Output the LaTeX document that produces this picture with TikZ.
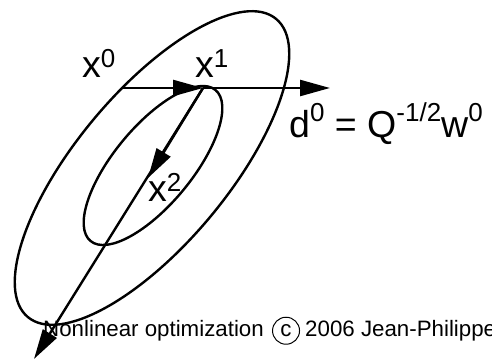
\documentclass[tikz,border=0pt]{standalone}
\usepackage{fontspec}
\setmainfont{Liberation Sans}
\usetikzlibrary{arrows.meta,positioning}

\newcommand{\sups}[2][0.28em]{\raisebox{#1}{\fontsize{26}{26}\selectfont #2}}

\begin{document}
\begin{tikzpicture}[x=1pt,y=1pt,
  lvl/.style={line width=2.4pt},
  arr/.style={-{Triangle[length=30pt,width=16pt]}, line width=2.4pt},
  lbl/.style={font=\fontsize{37.5}{40}\selectfont, inner sep=0pt, anchor=base west},
  foot/.style={font=\fontsize{22.3}{24}\selectfont, inner sep=0pt}]
\useasboundingbox (0,0) rectangle (492,361);

% level sets
\draw[lvl, rotate around={50.2:(152,193)}] (152,193) ellipse (194 and 76);
\draw[lvl, rotate around={50.4:(153,195.5)}] (153,195.5) ellipse (98 and 39);

% iterates
\coordinate (x0) at (122,273);
\coordinate (x1) at (203,273);
\coordinate (x2) at (148,183);
\coordinate (dend) at (330,273);
\coordinate (nend) at (34,2);

\draw[arr] (x0) -- (x1);
\draw[arr] (x1) -- (dend);
\draw[arr] (x1) -- (nend);
\draw[arr] (x1) -- (x2);

% labels
\node[lbl] (lx0) at (82,283) {x\sups{0}};
\node[lbl] (lx1) at (195,283) {x\sups{1}};
\node[lbl] (lx2) at (148,159) {x\sups{2}};
\node[lbl] (ld0) at (289,223) {d\sups[0.43em]{0} = Q\sups[0.43em]{-1/2}w\sups[0.43em]{0}};

% footer
\node[foot, anchor=base west] (foot1) at (43,24.5) {Nonlinear optimization};
\node[foot, draw, circle, line width=1pt, minimum size=27pt, right=8pt of foot1] (copy) {c};
\node[foot, anchor=base west] (foot2) at ([xshift=5pt]copy.east |- foot1.base) {2006 Jean-Philippe};
\end{tikzpicture}
\end{document}
